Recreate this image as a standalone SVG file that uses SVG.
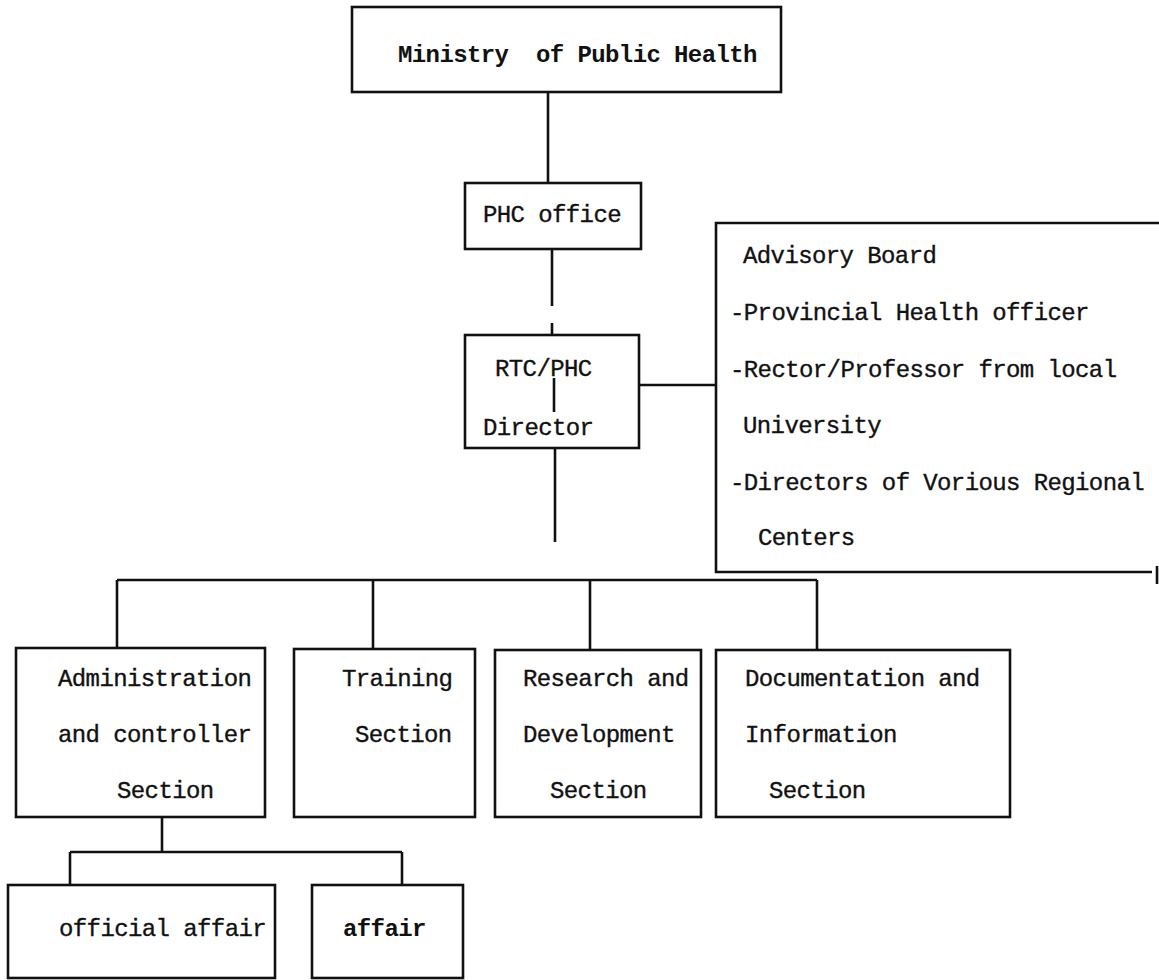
<svg xmlns="http://www.w3.org/2000/svg" width="1159" height="980" viewBox="0 0 1159 980">
<style>
.box{fill:none;stroke:#111;stroke-width:2.6}
.ln{fill:none;stroke:#111;stroke-width:2.6}
.t{font-family:"Liberation Mono","DejaVu Sans Mono",monospace;font-size:24px;letter-spacing:-0.6px;fill:#111;stroke:#111;stroke-width:0.35}
.b{font-weight:bold;stroke-width:0}
</style>
<rect width="1159" height="980" fill="#fff"/>
<g id="connectors">
<line class="ln" x1="548" y1="92" x2="548" y2="183"/>
<line class="ln" x1="552" y1="249" x2="552" y2="306"/>
<line class="ln" x1="552" y1="323" x2="552" y2="335"/>
<line class="ln" x1="554" y1="378" x2="554" y2="412"/>
<line class="ln" x1="639" y1="385" x2="716" y2="385"/>
<line class="ln" x1="555" y1="448" x2="555" y2="542"/>
<line class="ln" x1="117" y1="580" x2="817" y2="580"/>
<line class="ln" x1="117" y1="580" x2="117" y2="648"/>
<line class="ln" x1="373" y1="580" x2="373" y2="649"/>
<line class="ln" x1="590" y1="580" x2="590" y2="650"/>
<line class="ln" x1="817" y1="580" x2="817" y2="650"/>
<line class="ln" x1="162" y1="817" x2="162" y2="852"/>
<line class="ln" x1="70" y1="852" x2="402" y2="852"/>
<line class="ln" x1="70" y1="852" x2="70" y2="885"/>
<line class="ln" x1="402" y1="852" x2="402" y2="885"/>
</g>
<g id="ministry">
<rect class="box" x="352" y="7" width="429" height="85"/>
<text class="t b" x="398" y="62" xml:space="preserve">Ministry  of Public Health</text>
</g>
<g id="phc-office">
<rect class="box" x="465" y="183" width="176" height="66"/>
<text class="t" x="483" y="222">PHC office</text>
</g>
<g id="rtc-director">
<rect class="box" x="465" y="335" width="174" height="113"/>
<text class="t" x="495" y="376">RTC/PHC</text>
<text class="t" x="483" y="435">Director</text>
</g>
<g id="advisory-board">
<path class="box" d="M1159 223 H716 V572 H1152"/>
<line class="ln" x1="1157" y1="566" x2="1157" y2="584"/>
<text class="t" x="743" y="263">Advisory Board</text>
<text class="t" x="730" y="320">-Provincial Health officer</text>
<text class="t" x="730" y="377">-Rector/Professor from local</text>
<text class="t" x="743" y="433">University</text>
<text class="t" x="730" y="490">-Directors of Vorious Regional</text>
<text class="t" x="758" y="545">Centers</text>
</g>
<g id="administration">
<rect class="box" x="16" y="648" width="249" height="169"/>
<text class="t" x="58" y="686">Administration</text>
<text class="t" x="58" y="742">and controller</text>
<text class="t" x="117" y="798">Section</text>
</g>
<g id="training">
<rect class="box" x="294" y="649" width="181" height="168"/>
<text class="t" x="342" y="686">Training</text>
<text class="t" x="355" y="742">Section</text>
</g>
<g id="research">
<rect class="box" x="495" y="650" width="206" height="167"/>
<text class="t" x="523" y="686">Research and</text>
<text class="t" x="523" y="742">Development</text>
<text class="t" x="550" y="798">Section</text>
</g>
<g id="documentation">
<rect class="box" x="716" y="650" width="294" height="167"/>
<text class="t" x="745" y="686">Documentation and</text>
<text class="t" x="745" y="742">Information</text>
<text class="t" x="769" y="798">Section</text>
</g>
<g id="official-affair">
<rect class="box" x="8" y="885" width="267" height="93"/>
<text class="t" x="59" y="936">official affair</text>
</g>
<g id="affair">
<rect class="box" x="312" y="885" width="151" height="93"/>
<text class="t b" x="343" y="936">affair</text>
</g>
</svg>
